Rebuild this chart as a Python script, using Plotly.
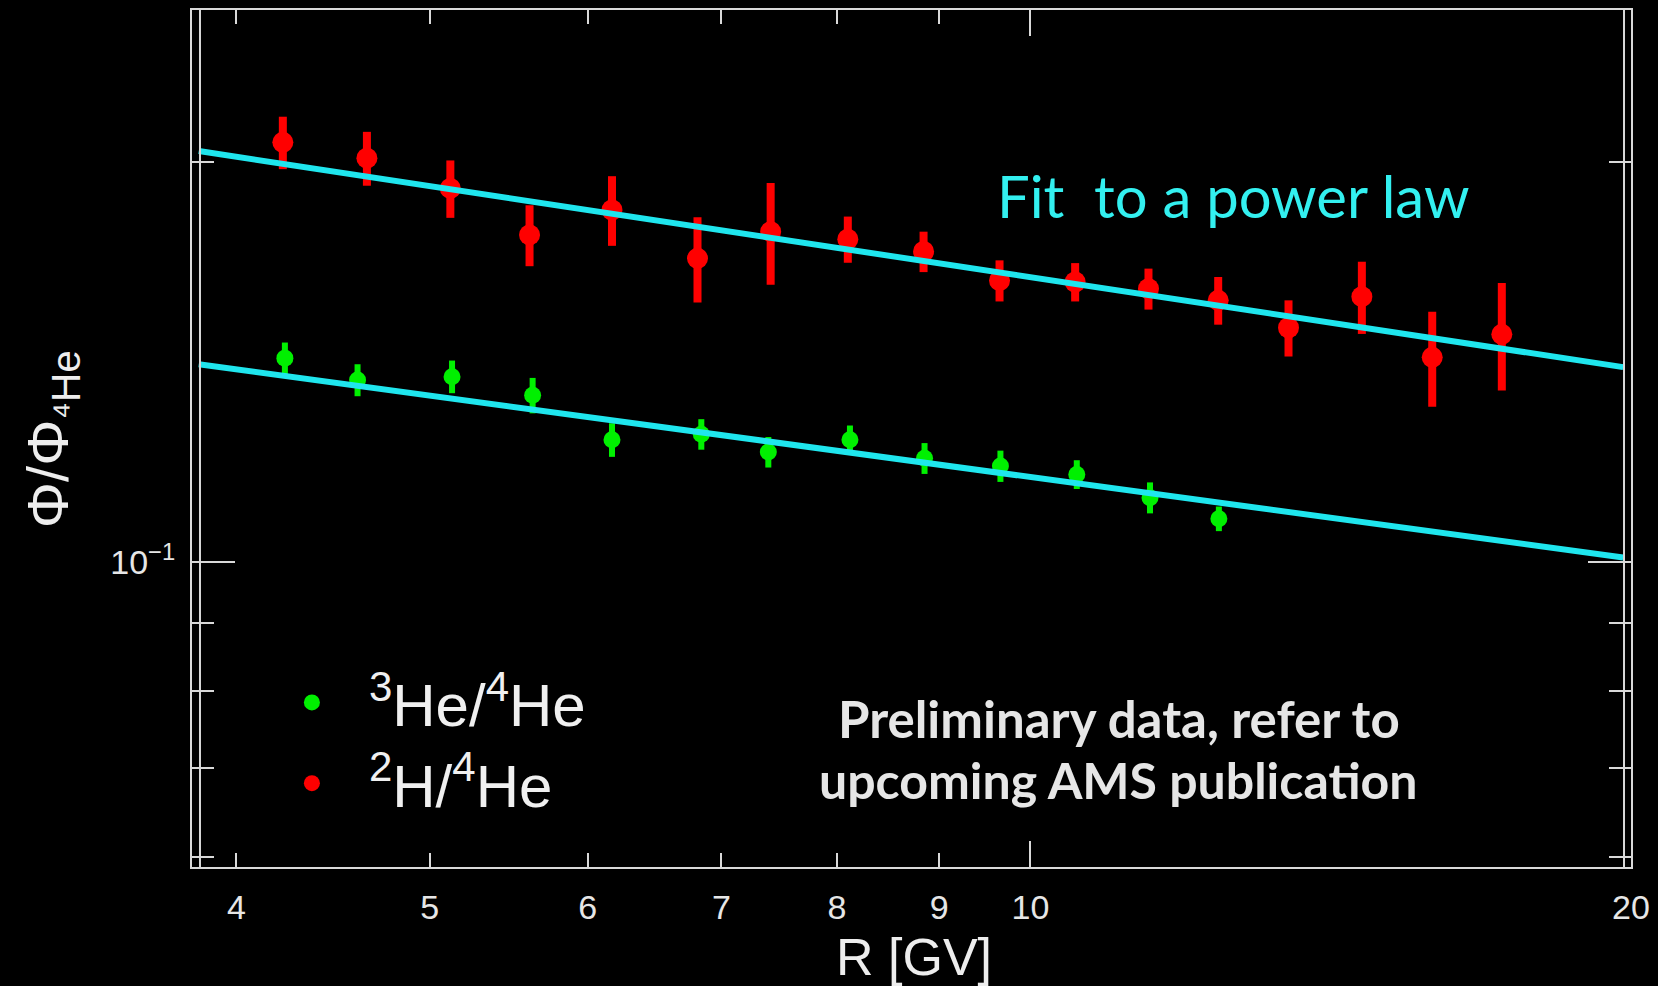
import math
import plotly.graph_objects as go

# Rigidity bins and flux ratios, 2H/4He
r_h2 = [4.22, 4.65, 5.12, 5.61, 6.17, 6.81, 7.41, 8.10, 8.84, 9.65,
        10.53, 11.46, 12.42, 13.47, 14.66, 15.90, 17.23]
ratio_h2 = [0.2070, 0.2014, 0.1911, 0.1763, 0.1841, 0.1693, 0.1773, 0.1750, 0.1713, 0.1629,
            0.1625, 0.1606, 0.1574, 0.1501, 0.1584, 0.1426, 0.1484]
err_h2 = [0.0094, 0.0094, 0.0095, 0.0093, 0.0111, 0.0125, 0.0156, 0.0070, 0.0060, 0.0058,
          0.0054, 0.0057, 0.0065, 0.0073, 0.0099, 0.0117, 0.0138]

# Rigidity bins and flux ratios, 3He/4He
r_he3 = [4.23, 4.60, 5.13, 5.63, 6.17, 6.84, 7.39, 8.12, 8.85, 9.66, 10.55, 11.48, 12.43]
ratio_he3 = [0.1424, 0.1371, 0.1379, 0.1335, 0.1236, 0.1248, 0.1210, 0.1236, 0.1197, 0.1181,
             0.1164, 0.1118, 0.1078]
err_he3 = [0.0039, 0.0038, 0.0039, 0.0041, 0.0036, 0.0033, 0.0032, 0.0031, 0.0032, 0.0032,
           0.0029, 0.0030, 0.0023]

# Power-law fits: straight lines on log-log axes, given by their end points
fit_r = [3.83, 19.82]
fit_h2 = [0.2039, 0.1402]
fit_he3 = [0.1409, 0.1008]

x_ticks = [4, 5, 6, 7, 8, 9, 10, 20]
y_minor_ticks = [0.06, 0.07, 0.08, 0.09, 0.2]

ROOT_FONT = "Liberation Sans"
FRAME = "#D9D9D9"
CYAN = "#1FE6EE"
RED = "#FF0000"
GREEN = "#00F000"

fig = go.Figure()

fig.add_trace(go.Scatter(
    x=r_he3, y=ratio_he3, mode="markers", name="<sup>3</sup>He/<sup>4</sup>He",
    marker=dict(color=GREEN, size=17, symbol="circle"),
    error_y=dict(type="data", array=err_he3, color=GREEN, thickness=6, width=0),
    legend="legend",
))
fig.add_trace(go.Scatter(
    x=r_h2, y=ratio_h2, mode="markers", name="<sup>2</sup>H/<sup>4</sup>He",
    marker=dict(color=RED, size=21, symbol="circle"),
    error_y=dict(type="data", array=err_h2, color=RED, thickness=8, width=0),
    legend="legend2",
))
for fy in (fit_h2, fit_he3):
    fig.add_trace(go.Scatter(
        x=fit_r, y=fy, mode="lines", showlegend=False,
        line=dict(color=CYAN, width=6),
    ))

axis_common = dict(
    type="log", showgrid=False, zeroline=False,
    showline=True, linecolor=FRAME, linewidth=2, mirror="ticks",
    ticks="inside", tickcolor=FRAME, tickwidth=2,
    tickfont=dict(family=ROOT_FONT, size=34, color="#E6E6E6"),
)

fig.update_xaxes(
    **axis_common,
    range=[math.log10(3.80), math.log10(20.0)],
    tickmode="array", tickvals=x_ticks, ticktext=[str(v) for v in x_ticks],
    ticklen=14, ticklabelstandoff=9,
    minor=dict(tickmode="array", tickvals=[10], ticks="inside", ticklen=26,
               tickwidth=2, tickcolor=FRAME, showgrid=False),
)
fig.update_yaxes(
    **axis_common,
    range=[-1.2296, -0.5844],
    tickmode="array", tickvals=[0.1], ticktext=["10<sup>\u22121</sup>"],
    ticklen=43, ticklabelstandoff=8,
    minor=dict(tickmode="array", tickvals=y_minor_ticks, ticks="inside", ticklen=22,
               tickwidth=2, tickcolor=FRAME, showgrid=False),
)

L, R, T, B = 192, 25, 8, 119
W, H = 1658, 986
pw, ph = W - L - R, H - T - B


def px(xp):
    return (xp - L) / pw


def py(yp):
    return (H - B - yp) / ph


legend_style = dict(
    xanchor="left", yanchor="middle", bgcolor="rgba(0,0,0,0)", borderwidth=0,
    font=dict(family=ROOT_FONT, size=60, color="#F0F0F0"), itemwidth=104,
)

fig.update_layout(
    width=W, height=H,
    margin=dict(l=L, r=R, t=T, b=B),
    paper_bgcolor="black", plot_bgcolor="black",
    legend=dict(x=px(255), y=py(702), **legend_style),
    legend2=dict(x=px(255), y=py(783), **legend_style),
    shapes=[
        dict(type="line", xref="paper", yref="paper", x0=px(200), x1=px(200), y0=0, y1=1,
             line=dict(color=FRAME, width=2)),
        dict(type="line", xref="paper", yref="paper", x0=px(1626), x1=px(1626), y0=0, y1=1,
             line=dict(color=FRAME, width=2)),
    ],
    annotations=[
        dict(text="R [GV]", xref="paper", yref="paper", x=px(915), y=py(957),
             xanchor="center", yanchor="middle", showarrow=False,
             font=dict(family=ROOT_FONT, size=52, color="#EDEDED")),
        dict(text="\u03a6/\u03a6<sub>\u2074He</sub>", xref="paper", yref="paper",
             x=px(52), y=py(438), xanchor="center", yanchor="middle", textangle=-90,
             showarrow=False, font=dict(family=ROOT_FONT, size=58, color="#EDEDED")),
        dict(text="Fit\u00a0 to a power law", xref="paper", yref="paper",
             x=px(1235), y=py(194), xanchor="center", yanchor="middle", showarrow=False,
             font=dict(family="Lato", size=58, color="#33F0F0")),
        dict(text="<b>Preliminary data, refer to</b>",
             xref="paper", yref="paper", x=px(1120), y=py(718),
             xanchor="center", yanchor="middle", showarrow=False,
             font=dict(family="Lato", size=51, color="#E6E6E6")),
        dict(text="<b>upcoming AMS publication</b>",
             xref="paper", yref="paper", x=px(1120), y=py(780),
             xanchor="center", yanchor="middle", showarrow=False,
             font=dict(family="Lato", size=50, color="#E6E6E6")),
    ],
)

fig.write_html("out.html")
